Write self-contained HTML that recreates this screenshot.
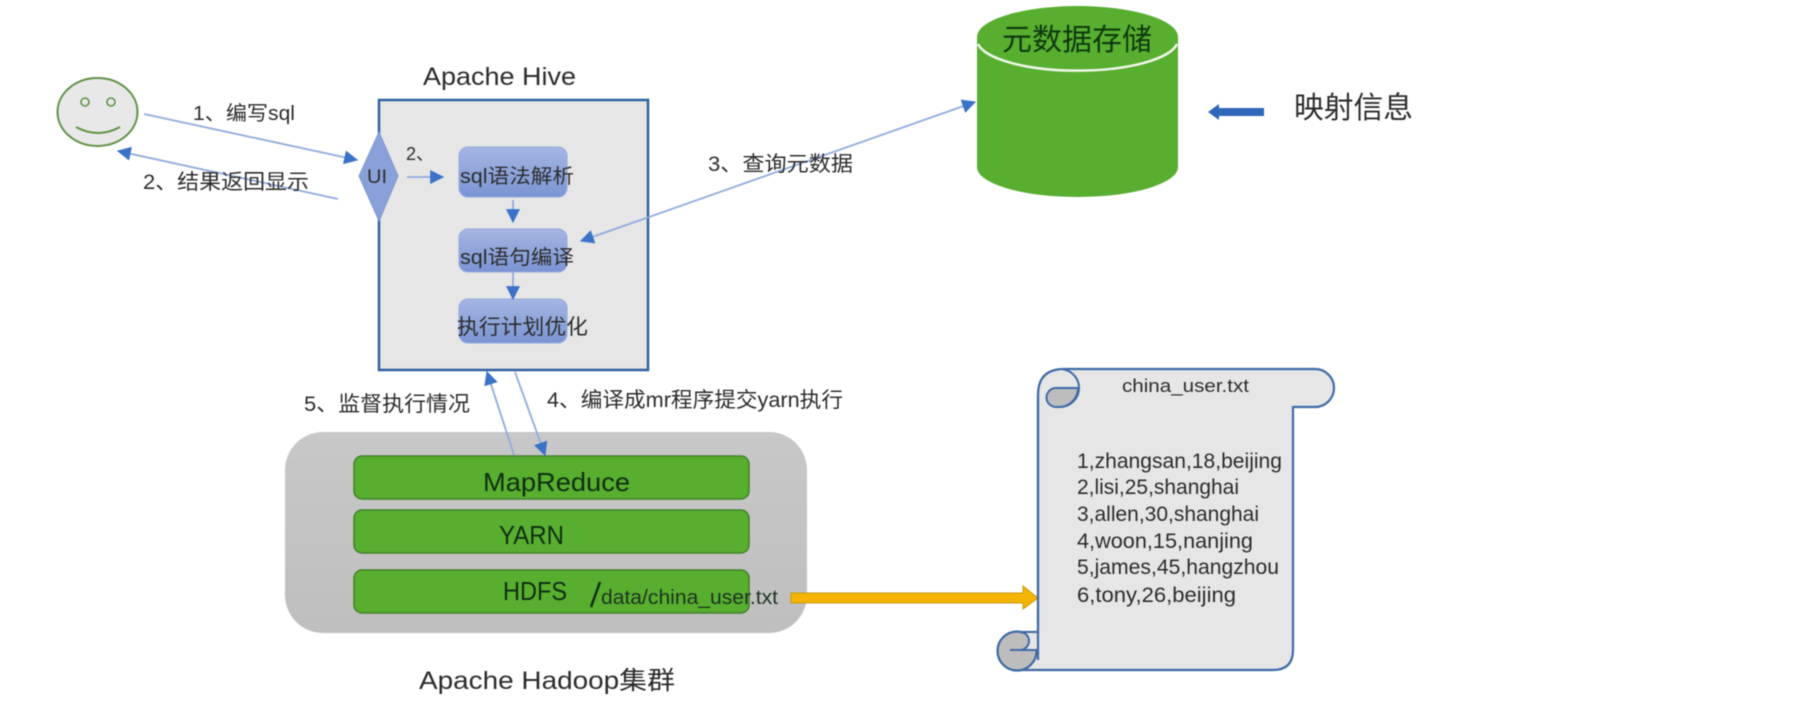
<!DOCTYPE html>
<html><head><meta charset="utf-8"><style>
html,body{margin:0;padding:0;background:#fff;width:1800px;height:712px;overflow:hidden}
svg{display:block;filter:blur(.6px)}
text{font-family:"Liberation Sans","Noto Sans CJK SC",sans-serif;fill:#2c2c2c}
</style></head><body>
<svg width="1800" height="712" viewBox="0 0 1800 712" xmlns="http://www.w3.org/2000/svg">
<defs>
<linearGradient id="b" x1="0" y1="0" x2="0" y2="1"><stop offset="0" stop-color="#a5b6e2"/><stop offset="1" stop-color="#7a94d4"/></linearGradient>
<linearGradient id="g" x1="0" y1="0" x2="0" y2="1"><stop offset="0" stop-color="#c8c8c8"/><stop offset="1" stop-color="#bfbfbf"/></linearGradient>
<marker id="a" viewBox="0 0 12 12" refX="11" refY="6" markerWidth="14" markerHeight="14" markerUnits="userSpaceOnUse" orient="auto-start-reverse"><path d="M0 0L12 6L0 12Z" fill="#3a72c8"/></marker>
</defs>
<!-- smiley -->
<ellipse cx="97.5" cy="112" rx="40" ry="34" fill="#e8e8e8" stroke="#5f9345" stroke-width="2"/>
<circle cx="85" cy="102" r="4" fill="#e8e8e8" stroke="#5f9345" stroke-width="1.6"/>
<circle cx="111" cy="102" r="4" fill="#e8e8e8" stroke="#5f9345" stroke-width="1.6"/>
<path d="M76 127Q98 139 120 127" fill="none" stroke="#5f9345" stroke-width="2"/>
<!-- hive -->
<rect x="379" y="100" width="269" height="270" fill="#e6e6e6" stroke="#2f5f9f" stroke-width="2.5"/>
<text x="423" y="85" font-size="25" textLength="153" lengthAdjust="spacingAndGlyphs">Apache Hive</text>
<path d="M379 132L398 176L379 221L359 176Z" fill="#8aa0d8" stroke="#7f96d0"/>
<text x="367" y="183" font-size="19" textLength="20" lengthAdjust="spacingAndGlyphs">UI</text>
<rect x="459" y="147" width="108" height="50" rx="9" fill="url(#b)" stroke="#92a8de"/>
<rect x="459" y="229" width="108" height="43" rx="9" fill="url(#b)" stroke="#92a8de"/>
<rect x="459" y="299" width="108" height="44" rx="9" fill="url(#b)" stroke="#92a8de"/>
<text x="460" y="183" font-size="20" textLength="114" lengthAdjust="spacingAndGlyphs">sql语法解析</text>
<text x="460" y="264" font-size="20" textLength="114" lengthAdjust="spacingAndGlyphs">sql语句编译</text>
<text x="457" y="334" font-size="21" textLength="131" lengthAdjust="spacingAndGlyphs">执行计划优化</text>
<!-- hadoop -->
<rect x="285" y="432" width="522" height="201" rx="38" fill="url(#g)"/>
<rect x="354" y="456" width="395" height="43" rx="8" fill="#58ae2f" stroke="#41822a" stroke-width="1.5"/>
<rect x="354" y="510" width="395" height="43" rx="8" fill="#58ae2f" stroke="#41822a" stroke-width="1.5"/>
<rect x="354" y="570" width="395" height="43" rx="8" fill="#58ae2f" stroke="#41822a" stroke-width="1.5"/>
<text x="483" y="491" font-size="26" textLength="147" lengthAdjust="spacingAndGlyphs" style="fill:#0f2f12">MapReduce</text>
<text x="499" y="544" font-size="26" textLength="65" lengthAdjust="spacingAndGlyphs" style="fill:#0f2f12">YARN</text>
<text x="503" y="600" font-size="26" textLength="64" lengthAdjust="spacingAndGlyphs" style="fill:#0f2f12">HDFS</text>
<line x1="600" y1="582" x2="591" y2="607" stroke="#0f2f12" stroke-width="2.5"/>
<text x="601" y="604" font-size="20" textLength="177" lengthAdjust="spacingAndGlyphs" style="fill:#1c3320">data/china_user.txt</text>
<text x="419" y="689" font-size="25" textLength="256" lengthAdjust="spacingAndGlyphs">Apache Hadoop集群</text>
<!-- connectors -->
<g fill="none" stroke="#8fabdd" stroke-width="1.8">
<line x1="144" y1="114" x2="357" y2="160" marker-end="url(#a)"/>
<line x1="338" y1="199" x2="118" y2="151" marker-end="url(#a)"/>
<line x1="407" y1="177" x2="443" y2="177" marker-end="url(#a)"/>
<line x1="513" y1="200" x2="513" y2="222" marker-end="url(#a)"/>
<line x1="513" y1="272" x2="513" y2="299" marker-end="url(#a)"/>
<line x1="581" y1="241" x2="975" y2="102" marker-start="url(#a)" marker-end="url(#a)"/>
<line x1="514" y1="455" x2="487" y2="372" marker-end="url(#a)"/>
<line x1="515" y1="372" x2="545" y2="455" marker-end="url(#a)"/>
</g>
<text x="193" y="120" font-size="20" textLength="102" lengthAdjust="spacingAndGlyphs">1、编写sql</text>
<text x="143" y="189" font-size="21" textLength="166" lengthAdjust="spacingAndGlyphs">2、结果返回显示</text>
<text x="406" y="160" font-size="18">2、</text>
<text x="708" y="171" font-size="21" textLength="145" lengthAdjust="spacingAndGlyphs">3、查询元数据</text>
<text x="304" y="411" font-size="21" textLength="166" lengthAdjust="spacingAndGlyphs">5、监督执行情况</text>
<text x="547" y="407" font-size="21" textLength="296" lengthAdjust="spacingAndGlyphs">4、编译成mr程序提交yarn执行</text>
<!-- cylinder -->
<path d="M977 37V167A100.5 30 0 0 0 1178 167V37Z" fill="#58ae2f"/>
<ellipse cx="1077.5" cy="37" rx="100.5" ry="31" fill="#58ae2f"/>
<path d="M978 44A100.5 31 0 0 0 1177 44" fill="none" stroke="#f0f7ea" stroke-width="2.5"/>
<text x="1002" y="50" font-size="30" textLength="150" lengthAdjust="spacingAndGlyphs" style="fill:#0e3a0e">元数据存储</text>
<path d="M1208 112L1219 104V108H1264V116H1219V120Z" fill="#2f66b8"/>
<text x="1294" y="118" font-size="30" textLength="119" lengthAdjust="spacingAndGlyphs">映射信息</text>
<!-- yellow arrow -->
<path d="M791 593H1023V586L1038 598L1023 609V603H791Z" fill="#f4b400" stroke="#c99a10" stroke-width="1"/>
<!-- scroll -->
<path d="M1038 395Q1038 369 1064 369H1315A19 19 0 0 1 1315 407H1293V650Q1293 670 1273 670H1017V632H1038Z" fill="#e6e6e6" stroke="#3f6aa6" stroke-width="2.2"/>
<path d="M1060 369A19 19 0 0 1 1060 407" fill="#e6e6e6" stroke="#3f6aa6" stroke-width="2"/>
<path d="M1078 388A19 19 0 0 1 1060 407H1056A9.5 9.5 0 0 1 1056 388Z" fill="#bdbdbd" stroke="#3f6aa6" stroke-width="2"/>
<circle cx="1017" cy="651" r="19.5" fill="#bdbdbd" stroke="#3f6aa6" stroke-width="2.2"/>
<path d="M1020 632H1038V650H1020A9 9 0 0 0 1029 641A9 9 0 0 0 1020 632Z" fill="#e6e6e6" stroke="#3f6aa6" stroke-width="2"/>
<line x1="1010" y1="650" x2="1038" y2="650" stroke="#3f6aa6" stroke-width="2"/>
<line x1="1038" y1="395" x2="1038" y2="660" stroke="#3f6aa6" stroke-width="2.2"/>
<text x="1122" y="392" font-size="18" textLength="127" lengthAdjust="spacingAndGlyphs">china_user.txt</text>
<g font-size="21">
<text x="1077" y="468" textLength="205" lengthAdjust="spacingAndGlyphs">1,zhangsan,18,beijing</text>
<text x="1077" y="494" textLength="162" lengthAdjust="spacingAndGlyphs">2,lisi,25,shanghai</text>
<text x="1077" y="521" textLength="182" lengthAdjust="spacingAndGlyphs">3,allen,30,shanghai</text>
<text x="1077" y="548" textLength="176" lengthAdjust="spacingAndGlyphs">4,woon,15,nanjing</text>
<text x="1077" y="574" textLength="202" lengthAdjust="spacingAndGlyphs">5,james,45,hangzhou</text>
<text x="1077" y="602" textLength="159" lengthAdjust="spacingAndGlyphs">6,tony,26,beijing</text>
</g>
</svg>
</body></html>
